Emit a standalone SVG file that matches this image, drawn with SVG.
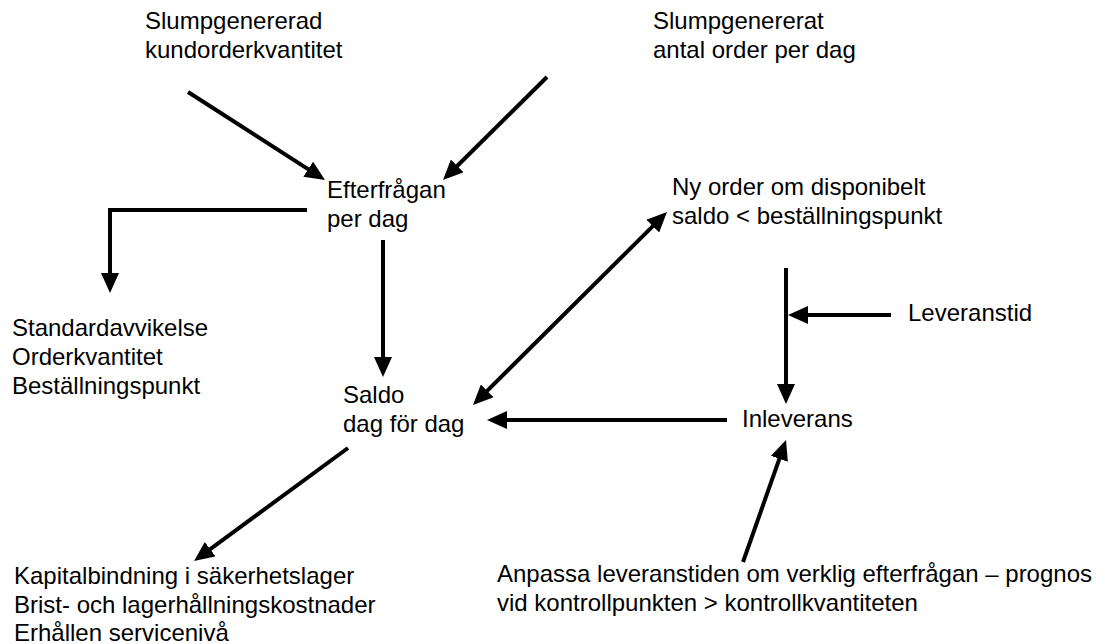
<svg xmlns="http://www.w3.org/2000/svg" width="1115" height="644" viewBox="0 0 1115 644">
<style>
text{font-family:"Liberation Sans",Arial,sans-serif;font-size:24px;fill:#000}
.c{fill:none;stroke:#000;stroke-width:4}
</style>
<defs>
<marker id="ah" viewBox="0 0 20 18" refX="10" refY="9" markerWidth="20" markerHeight="18" markerUnits="userSpaceOnUse" orient="auto-start-reverse">
<path d="M0,0 L20,9 L0,18 Z" fill="#000"/>
</marker>
</defs>
<rect width="1115" height="644" fill="#fff"/>
<g id="connectors">
<line class="c" x1="188" y1="92" x2="316.6" y2="174.6" marker-end="url(#ah)"/>
<line class="c" x1="547" y1="77" x2="450.1" y2="173" marker-end="url(#ah)"/>
<path class="c" d="M307,210 H110 V283" marker-end="url(#ah)"/>
<line class="c" x1="383" y1="240" x2="383" y2="367" marker-end="url(#ah)"/>
<line class="c" x1="480.1" y1="397.9" x2="659.9" y2="219.1" marker-start="url(#ah)" marker-end="url(#ah)"/>
<line class="c" x1="727" y1="420" x2="497" y2="420" marker-end="url(#ah)"/>
<line class="c" x1="786" y1="268" x2="786" y2="394" marker-end="url(#ah)"/>
<line class="c" x1="891" y1="315" x2="798" y2="315" marker-end="url(#ah)"/>
<line class="c" x1="743" y1="562" x2="782.7" y2="449.4" marker-end="url(#ah)"/>
<line class="c" x1="348" y1="448" x2="202.1" y2="555.1" marker-end="url(#ah)"/>
</g>
<g id="n-kvantitet"><text x="145" y="29">Slumpgenererad</text><text x="145" y="58">kundorderkvantitet</text></g>
<g id="n-antal"><text x="653" y="29">Slumpgenererat</text><text x="653" y="58">antal order per dag</text></g>
<g id="n-efterfragan"><text x="327" y="198">Efterfrågan</text><text x="327" y="227">per dag</text></g>
<g id="n-nyorder"><text x="672" y="195">Ny order om disponibelt</text><text x="672" y="224">saldo &lt; beställningspunkt</text></g>
<g id="n-standard"><text x="12" y="336">Standardavvikelse</text><text x="12" y="365">Orderkvantitet</text><text x="12" y="394">Beställningspunkt</text></g>
<g id="n-leveranstid"><text x="908" y="321">Leveranstid</text></g>
<g id="n-saldo"><text x="343" y="403">Saldo</text><text x="343" y="432">dag för dag</text></g>
<g id="n-inleverans"><text x="742" y="427">Inleverans</text></g>
<g id="n-resultat"><text x="14" y="584">Kapitalbindning i säkerhetslager</text><text x="14" y="613">Brist- och lagerhållningskostnader</text><text x="14" y="641">Erhållen servicenivå</text></g>
<g id="n-anpassa"><text x="497" y="582">Anpassa leveranstiden om verklig efterfrågan – prognos</text><text x="497" y="611">vid kontrollpunkten &gt; kontrollkvantiteten</text></g>
</svg>
